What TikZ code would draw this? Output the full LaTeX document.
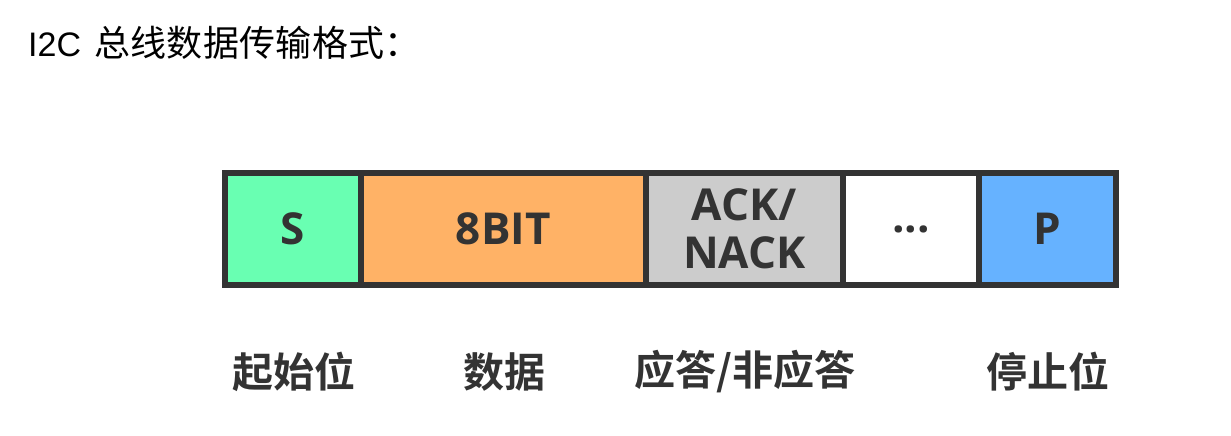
\documentclass[tikz,border=0pt]{standalone}
\usepackage{fontspec}
\setmainfont{Liberation Sans}
\newfontfamily\cjk{Noto Sans CJK SC}[LetterSpace=1]
\newfontfamily\cjkb{Noto Sans CJK SC}[BoldFont={* Bold}]
\newfontfamily\boxfont{Open Sans}
\definecolor{bordc}{HTML}{333333}
\definecolor{sgreen}{HTML}{69FFB2}
\definecolor{dorange}{HTML}{FFB266}
\definecolor{agray}{HTML}{CCCCCC}
\definecolor{pblue}{HTML}{66B2FF}
\begin{document}
\begin{tikzpicture}[x=1pt,y=-1pt,
  cell/.style={draw=bordc,line width=6pt,inner sep=0pt,outer sep=0pt,minimum height=112pt,
    text=bordc,font=\boxfont\bfseries\fontsize{44}{48}\selectfont,align=center},
  lab/.style={text=bordc,font=\cjkb\bfseries\fontsize{41}{44}\selectfont,inner sep=0pt}]
\useasboundingbox (0,0) rectangle (1231,436);
\node[anchor=base west,inner sep=0pt,font=\fontsize{34}{38}\selectfont] (title) at (28,57) {I2C\hspace{13pt}{\cjk\fontsize{36}{40}\selectfont 总线数据传输格式：}};
\node[cell,fill=sgreen,minimum width=136.5pt] (s) at (292.75,229) {S};
\node[cell,fill=dorange,minimum width=284.5pt] (d) at (503.25,229) {8BIT};
\node[cell,fill=agray,minimum width=197.5pt] (a) at (744.25,229) {ACK/\\NACK};
\node[cell,fill=white,minimum width=136pt] (e) at (911,229) {...};
\node[cell,fill=pblue,minimum width=137pt] (p) at (1047.5,229) {P};
\node[lab] (ls) at (294,372) {起始位};
\node[lab] (ld) at (504,372) {数据};
\node[lab] (la) at (745,372) {应答/非应答};
\node[lab] (lp) at (1048,372) {停止位};
\end{tikzpicture}
\end{document}
